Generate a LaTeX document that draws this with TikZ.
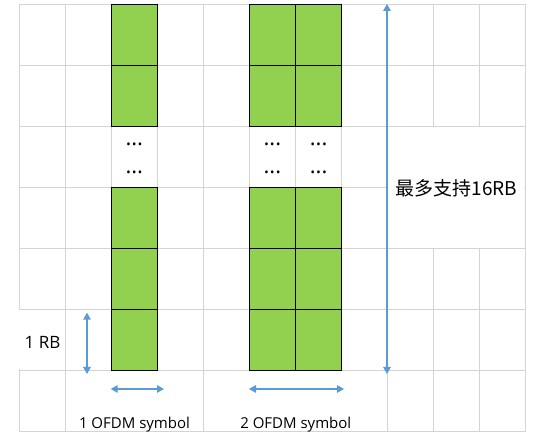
\documentclass[tikz,border=0pt]{standalone}
\usepackage{fontspec}
\setmainfont{Open Sans}
\newfontfamily\cjk{Noto Sans CJK SC}
\usetikzlibrary{arrows.meta}
\definecolor{rbgreen}{HTML}{92D050}
\definecolor{arrowblue}{HTML}{5B9BD5}
\definecolor{gridgray}{HTML}{D4D4D4}
\tikzset{
  rbcell/.style={draw=black, fill=rbgreen, line width=1pt, minimum width=46pt, minimum height=61pt, inner sep=0pt, outer sep=0pt},
  dotsnode/.style={font=\fontsize{22}{22}\selectfont, inner sep=0pt, anchor=base},
  lbl/.style={inner sep=0pt, anchor=base},
  bluearrow/.style={{Triangle[length=7pt,width=7.5pt]}-{Triangle[length=7pt,width=7.5pt]}, line width=1.4pt, draw=arrowblue}
}

\begin{document}
\begin{tikzpicture}[x=1pt,y=1pt]
\useasboundingbox[fill=white] (0,0) rectangle (536,441);
%GRID
\draw[gridgray, line width=0.8pt, xstep=46pt, ystep=61pt, shift={(19.3,9.7)}] (0,0) grid (506.2,427.2);
%TEXT BOX BACKGROUNDS
\fill[white] (17.6,71.9) rectangle (64.5,130.5);
\fill[white] (66.4,10.4) rectangle (202.2,70.1);
\fill[white] (204.4,10.4) rectangle (385.9,70.1);
\fill[white] (388,193.4) rectangle (524.4,314.1);
%1 OFDM SYMBOL
\node[rbcell] (a1) at (134.3,406.2) {};
\node[rbcell] (a2) at (134.3,345.2) {};
\node[rbcell] (a4) at (134.3,223.2) {};
\node[rbcell] (a5) at (134.3,162.2) {};
\node[rbcell] (a6) at (134.3,101.2) {};
\node[dotsnode] (adots1) at (134.3,295) {...};
\node[dotsnode] (adots2) at (134.3,267.7) {...};
%2 OFDM SYMBOL
\node[rbcell] (b1) at (272.4,406.2) {};
\node[rbcell] (b2) at (272.4,345.2) {};
\node[rbcell] (b4) at (272.4,223.2) {};
\node[rbcell] (b5) at (272.4,162.2) {};
\node[rbcell] (b6) at (272.4,101.2) {};
\node[rbcell] (c1) at (318.6,406.2) {};
\node[rbcell] (c2) at (318.6,345.2) {};
\node[rbcell] (c4) at (318.6,223.2) {};
\node[rbcell] (c5) at (318.6,162.2) {};
\node[rbcell] (c6) at (318.6,101.2) {};
\node[dotsnode] (bdots1) at (272.4,295) {...};
\node[dotsnode] (bdots2) at (272.4,267.7) {...};
\node[dotsnode] (cdots1) at (318.6,295) {...};
\node[dotsnode] (cdots2) at (318.6,267.7) {...};
%LABELS
\node[lbl, font=\fontsize{17}{17}\selectfont] (rblbl) at (42.5,92.7) {1 RB};
\node[lbl, font=\fontsize{15}{15}\selectfont] (symlbla) at (134.5,12.7) {1 OFDM symbol};
\node[lbl, font=\fontsize{15}{15}\selectfont] (symlblb) at (295.8,12.7) {2 OFDM symbol};
\node[lbl, font=\cjk\fontsize{19}{19}\selectfont] (maxlbl) at (456.5,245) {最多支持16RB};
%ARROWS
\coordinate (rbtop) at (87,128.3);
\coordinate (rbbot) at (87,67);
\coordinate (symaleft) at (110.7,52);
\coordinate (symaright) at (164,52);
\coordinate (symbleft) at (249,52);
\coordinate (symbright) at (344,52);
\coordinate (maxtop) at (387,437);
\coordinate (maxbot) at (387,67);
\draw[bluearrow] (rbtop) -- (rbbot);
\draw[bluearrow] (symaleft) -- (symaright);
\draw[bluearrow] (symbleft) -- (symbright);
\draw[bluearrow] (maxtop) -- (maxbot);
\end{tikzpicture}
\end{document}
